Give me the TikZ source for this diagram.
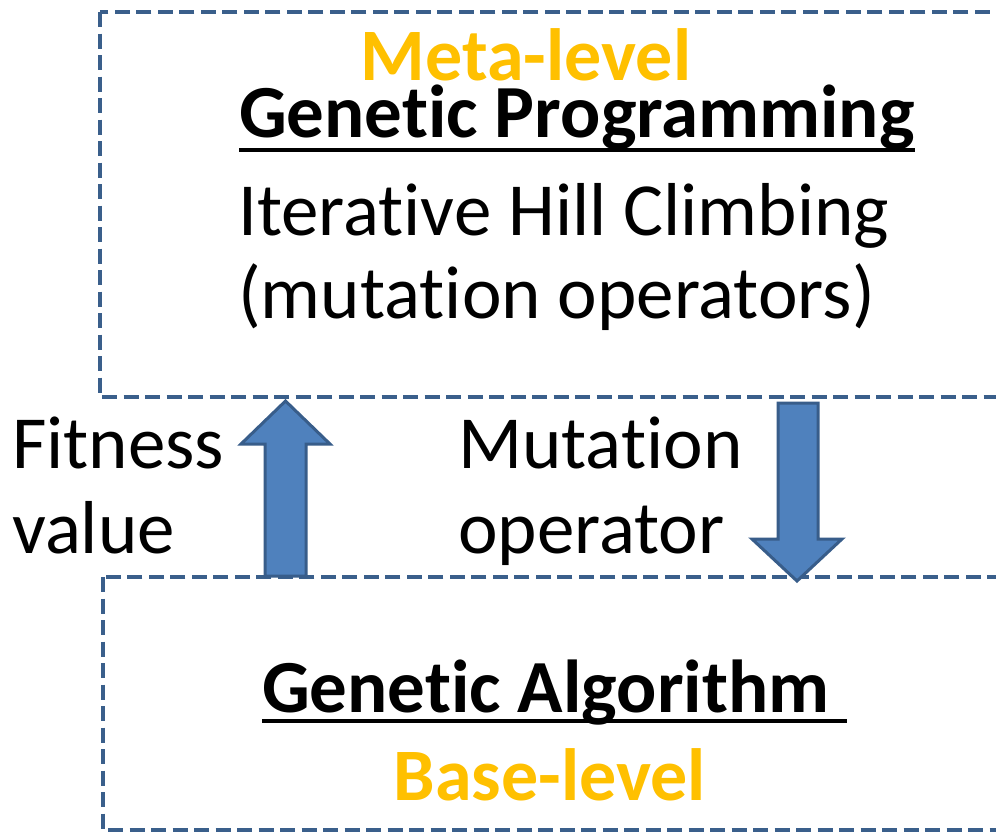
\documentclass[tikz,border=0pt]{standalone}
\usepackage{fontspec}
\setmainfont[RawFeature=-liga]{Carlito}
\definecolor{frameblue}{HTML}{3A5F8B}
\definecolor{arrowfill}{HTML}{4F81BD}
\definecolor{arrowedge}{HTML}{385D8A}
\definecolor{levelgold}{HTML}{FFC000}
\begin{document}
\begin{tikzpicture}[x=1bp,y=-1bp,
  levelbox/.style={draw=frameblue,line width=4.6bp,dash pattern=on 15bp off 6.5bp},
  blockarrow/.style={fill=arrowfill,draw=arrowedge,line width=3bp,line join=miter},
  txt/.style={inner sep=0pt,anchor=base west,font=\fontsize{75bp}{90bp}\selectfont},
  btxt/.style={txt,font=\fontsize{75bp}{90bp}\selectfont\bfseries},
  lvl/.style={inner sep=0pt,anchor=base,text=levelgold,font=\fontsize{74bp}{90bp}\selectfont\bfseries},
  uline/.style={line width=3.8bp}]
\useasboundingbox[fill=white] (0,0) rectangle (996,832);

% the two levels, running off the right edge
\draw[levelbox] (100,12) rectangle (1020,397);
\draw[levelbox] (103,577) rectangle (1020,830);

% meta-level text
\node[lvl] (meta) at (526,80) {Meta-level};
\node[btxt] (gp) at (239,137) {Genetic Programming};
\draw[uline] ([yshift=-13bp]gp.base west) -- ([yshift=-13bp]gp.base east);
\node[txt] (ihc) at (238,235) {Iterative Hill Climbing};
\node[txt] (mutops) at (238,318) {(mutation operators)};

% base-level text (the underline runs on under a trailing space)
\node[btxt] (ga) at (262,712) {Genetic Algorithm};
\draw[uline] ([yshift=-9bp]ga.base west) -- ([yshift=-9bp,xshift=17bp]ga.base east);
\node[lvl] (base) at (550,800) {Base-level};

% labels between the levels
\node[txt] (fit) at (12,468) {Fitness};
\node[txt] (val) at (12,553) {value};
\node[txt] (mut) at (458,468) {Mutation};
\node[txt] (op) at (458,553) {operator};

% block arrows
\draw[blockarrow] (265,576) -- (265,444) -- (241,444) -- (285.5,401)
  -- (330,444) -- (306,444) -- (306,576) -- cycle;
\draw[blockarrow] (778,403) -- (778,539) -- (752,539) -- (797,581)
  -- (842,539) -- (818,539) -- (818,403) -- cycle;
\end{tikzpicture}
\end{document}
